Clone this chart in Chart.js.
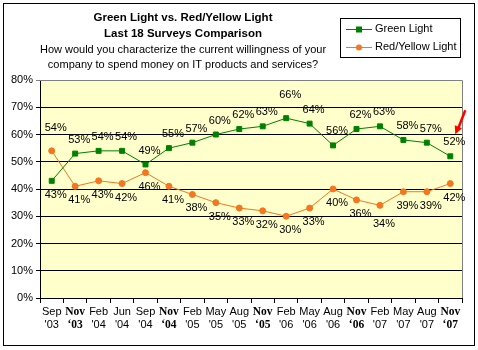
<!DOCTYPE html>
<html>
<head>
<meta charset="utf-8">
<script src="https://cdn.jsdelivr.net/npm/chart.js@4.4.1/dist/chart.umd.min.js"></script>
<style>
  body { margin: 0; background: #fff; }
  #wrap { width: 478px; height: 350px; }
</style>
</head>
<body>
<div id="wrap"><canvas id="myChart" width="478" height="350"></canvas></div>
<script>
// survey dates (month, year)
const months = ["Sep", "Nov", "Feb", "Jun", "Sep", "Nov", "Feb", "May", "Aug",
  "Nov", "Feb", "May", "Aug", "Nov", "Feb", "May", "Aug", "Nov"];
const years = ["'03", "'03", "'04", "'04", "'04", "'04", "'05", "'05", "'05",
  "'05", "'06", "'06", "'06", "'06", "'07", "'07", "'07", "'07"];
const greenLight = [43, 53, 54, 54, 49, 55, 57, 60, 62, 63, 66, 64, 56, 62, 63, 58, 57, 52];
const redYellowLight = [54, 41, 43, 42, 46, 41, 38, 35, 33, 32, 30, 33, 40, 36, 34, 39, 39, 42];
const yTicks = [0, 10, 20, 30, 40, 50, 60, 70, 80];

const GREEN = "#008000";
const ORANGE = "#F4761E";
const FONT = "'Liberation Sans', Arial, sans-serif";

// where each data label sits relative to its point
const greenPos = ["below", "above", "above", "above", "above", "above", "above", "above", "above",
  "above", "above2", "above", "above", "above", "above", "above", "above", "above"];
const redPos = ["above2", "below", "below", "below", "below", "below", "below", "below", "below",
  "below", "below", "below", "below", "below", "below2", "below", "below", "below"];

const labels = months.map((m, i) => [m, years[i].replace("'", m === "Nov" ? "\u2018" : "'")]);

const decor = {
  id: "decor",
  beforeDraw(chart) {
    const { ctx, chartArea: a } = chart;
    ctx.save();
    ctx.fillStyle = "#FFFFCC";
    ctx.fillRect(a.left, a.top, a.right - a.left, a.bottom - a.top);
    ctx.restore();
  },
  afterDraw(chart) {
    const { ctx, chartArea: a } = chart;
    ctx.save();
    // plot border top / right
    ctx.strokeStyle = "#808080";
    ctx.lineWidth = 1;
    ctx.beginPath();
    ctx.moveTo(a.left, a.top + 0.5);
    ctx.lineTo(a.right + 0.5, a.top + 0.5);
    ctx.lineTo(a.right + 0.5, a.bottom);
    ctx.stroke();

    // outer frame
    ctx.strokeStyle = "#000";
    ctx.strokeRect(3.5, 3.5, 471, 342);

    // titles
    ctx.fillStyle = "#000";
    ctx.textAlign = "center";
    ctx.textBaseline = "middle";
    ctx.font = "bold 11.5px " + FONT;
    ctx.fillText("Green Light vs. Red/Yellow Light", 183, 18);
    ctx.fillText("Last 18 Surveys Comparison", 183, 34);
    ctx.font = "11px " + FONT;
    ctx.fillText("How would you characterize the current willingness of your", 183, 50);
    ctx.fillText("company to spend money on IT products and services?", 183, 65);

    // legend
    ctx.strokeRect(340.5, 18.5, 120, 39);
    const items = [["Green Light", GREEN, "rect", 29], ["Red/Yellow Light", ORANGE, "circle", 47]];
    items.forEach(([txt, col, shape, y]) => {
      ctx.strokeStyle = col;
      ctx.beginPath();
      ctx.moveTo(346, y + 0.5);
      ctx.lineTo(372, y + 0.5);
      ctx.stroke();
      ctx.fillStyle = col;
      if (shape === "rect") ctx.fillRect(356, y - 2.5, 6, 6);
      else { ctx.beginPath(); ctx.arc(359, y + 0.5, 3, 0, Math.PI * 2); ctx.fill(); }
      ctx.fillStyle = "#000";
      ctx.textAlign = "left";
      ctx.fillText(txt, 375, y);
    });

    // data labels
    ctx.textAlign = "center";
    ctx.font = "11px " + FONT;
    [greenPos, redPos].forEach((pos, di) => {
      const meta = chart.getDatasetMeta(di);
      const vals = chart.data.datasets[di].data;
      meta.data.forEach((pt, i) => {
        const off = { above: -14, above2: -23, below: 14, below2: 19 }[pos[i]];
        ctx.fillText(vals[i] + "%", pt.x + 4, pt.y + off);
      });
    });

    // red arrow pointing at the latest survey
    const last = chart.getDatasetMeta(0).data[greenLight.length - 1];
    const tx = last.x + 5, ty = last.y - 22;
    const sx = last.x + 15, sy = last.y - 46;
    ctx.strokeStyle = "#FF0000";
    ctx.fillStyle = "#FF0000";
    ctx.lineWidth = 2.5;
    ctx.beginPath();
    ctx.moveTo(sx, sy);
    ctx.lineTo(tx + 3, ty - 6);
    ctx.stroke();
    const ang = Math.atan2(ty - sy, tx - sx);
    ctx.beginPath();
    ctx.moveTo(tx, ty);
    ctx.lineTo(tx - 9 * Math.cos(ang - 0.45), ty - 9 * Math.sin(ang - 0.45));
    ctx.lineTo(tx - 9 * Math.cos(ang + 0.45), ty - 9 * Math.sin(ang + 0.45));
    ctx.closePath();
    ctx.fill();
    ctx.restore();
  }
};

const ctx = document.getElementById("myChart").getContext("2d");
const myChart = new Chart(ctx, {
  type: "line",
  data: {
    labels: labels,
    datasets: [
      {
        label: "Green Light",
        data: greenLight,
        borderColor: GREEN,
        backgroundColor: GREEN,
        borderWidth: 1,
        pointStyle: "rect",
        pointRadius: 3.5,
        tension: 0,
      },
      {
        label: "Red/Yellow Light",
        data: redYellowLight,
        borderColor: ORANGE,
        backgroundColor: ORANGE,
        borderWidth: 1,
        pointStyle: "circle",
        pointRadius: 3,
        tension: 0,
      },
    ],
  },
  options: {
    responsive: false,
    animation: false,
    events: [],
    layout: { padding: { top: 80, right: 16, bottom: 8, left: 0 } },
    plugins: { legend: { display: false }, title: { display: false }, tooltip: { enabled: false } },
    scales: {
      x: {
        offset: true,
        border: { color: "#000", width: 1 },
        grid: { offset: true, drawOnChartArea: false, color: "#000", tickLength: 5 },
        ticks: {
          color: "#000",
          padding: 3,
          maxRotation: 0,
          autoSkip: false,
          font: (c) => months[c.index] === "Nov"
            ? { family: "'Liberation Serif', 'Times New Roman', serif", size: 11.5, weight: "bold", lineHeight: 1.12 }
            : { family: FONT, size: 11, lineHeight: 1.15 },
        },
        afterFit: (s) => { s.height = 44; },
      },
      y: {
        min: 0,
        max: 80,
        border: { color: "#000", width: 1 },
        grid: { color: (c) => (c.tick && c.tick.value === 80 ? "#808080" : "#000"), tickLength: 4 },
        afterBuildTicks: (s) => { s.ticks = yTicks.map((v) => ({ value: v })); },
        ticks: {
          color: "#000",
          padding: 3,
          font: { family: FONT, size: 11 },
          callback: (v) => v + "%",
        },
        afterFit: (s) => { s.width = 40; },
      },
    },
  },
  plugins: [decor],
});
</script>
</body>
</html>
